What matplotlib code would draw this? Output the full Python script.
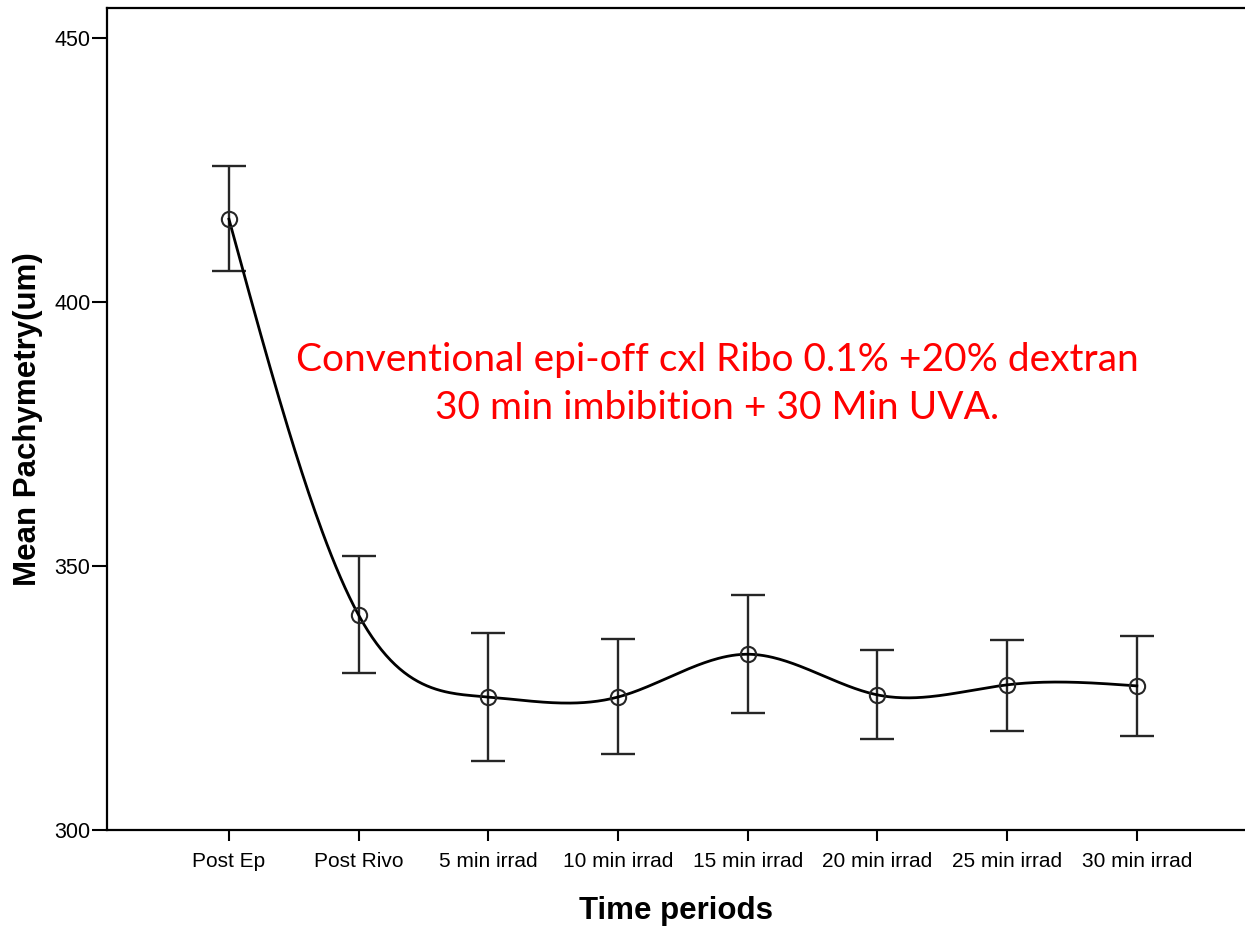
import matplotlib
matplotlib.use("Agg")
import matplotlib.pyplot as plt
import numpy as np

# Datos
periodos = ["Post Ep", "Post Rivo", "5 min irrad", "10 min irrad", "15 min irrad",
            "20 min irrad", "25 min irrad", "30 min irrad"]
media = [415.7, 340.7, 325.2, 325.2, 333.3, 325.6, 327.5, 327.3]
superior = [425.8, 351.9, 337.3, 336.2, 344.5, 334.1, 336.0, 336.7]
inferior = [405.9, 329.7, 313.1, 314.4, 322.2, 317.2, 318.8, 317.8]
y_ticks = [300, 350, 400, 450]
anotacion = "Conventional epi-off cxl Ribo 0.1% +20% dextran\n30 min imbibition + 30 Min UVA."


# Spline cubica natural para la curva suavizada
def spline_natural(x, y, xs):
    x = np.asarray(x, float)
    y = np.asarray(y, float)
    n = len(x)
    h = np.diff(x)
    A = np.zeros((n, n))
    b = np.zeros(n)
    A[0, 0] = 1
    A[-1, -1] = 1
    for i in range(1, n - 1):
        A[i, i - 1] = h[i - 1]
        A[i, i] = 2 * (h[i - 1] + h[i])
        A[i, i + 1] = h[i]
        b[i] = 3 * ((y[i + 1] - y[i]) / h[i] - (y[i] - y[i - 1]) / h[i - 1])
    c = np.linalg.solve(A, b)
    ys = np.zeros_like(xs)
    for k, xv in enumerate(xs):
        i = min(max(np.searchsorted(x, xv) - 1, 0), n - 2)
        dx = xv - x[i]
        bi = (y[i + 1] - y[i]) / h[i] - h[i] * (2 * c[i] + c[i + 1]) / 3
        di = (c[i + 1] - c[i]) / (3 * h[i])
        ys[k] = y[i] + bi * dx + c[i] * dx ** 2 + di * dx ** 3
    return ys


plt.rcParams["font.family"] = ["Liberation Sans", "DejaVu Sans"]

fig = plt.figure(figsize=(12.45, 9.27), dpi=100)
ax = fig.add_axes([0.0859, 0.1046, 0.9141, 0.8867])

x = np.arange(len(periodos))
media_arr = np.array(media)
err = [media_arr - np.array(inferior), np.array(superior) - media_arr]

xs = np.linspace(0, len(periodos) - 1, 400)
ax.plot(xs, spline_natural(x, media, xs), color="black", lw=2.0, zorder=3)

ax.errorbar(x, media, yerr=err, fmt="none", ecolor="#262626", elinewidth=1.7,
            capsize=12, capthick=1.7, zorder=2)
ax.plot(x, media, linestyle="none", marker="o", markersize=11,
        markerfacecolor="none", markeredgecolor="#262626", markeredgewidth=1.5, zorder=4)

ax.set_xlim(-0.941, 7.834)
ax.set_ylim(300, 455.7)
ax.set_xticks(x)
ax.set_xticklabels(periodos, fontsize=15)
ax.set_yticks(y_ticks)
ax.set_yticklabels([str(v) for v in y_ticks], fontsize=15.5)

ax.spines["right"].set_visible(False)
for s in ["left", "bottom", "top"]:
    ax.spines[s].set_linewidth(1.6)
ax.tick_params(axis="y", length=11, width=1.5, pad=1)
ax.tick_params(axis="x", length=8, width=1.5, pad=8)

ax.set_xlabel("Time periods", fontsize=22.5, fontweight="bold", labelpad=18)
ax.set_ylabel("Mean Pachymetry(um)", fontsize=22.5, fontweight="bold", labelpad=8)

ax.text(0.536, 0.543, anotacion, transform=ax.transAxes, ha="center", va="center",
        color="#ff0000", fontsize=28, family=["Lato", "DejaVu Sans"], linespacing=1.42)

fig.savefig("out.png", dpi=100)
